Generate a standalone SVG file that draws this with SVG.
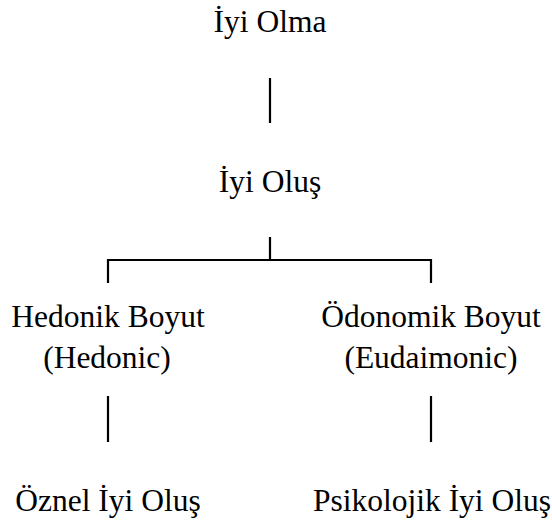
<svg xmlns="http://www.w3.org/2000/svg" width="552" height="522" viewBox="0 0 552 522">
<style>
.t { font-size: 31.5px; fill: #000; text-anchor: middle; }
.c { stroke: #000; stroke-width: 2.2; fill: none; }
</style>
<rect width="552" height="522" fill="#fff"/>
<g id="connectors">
<line class="c" x1="270" y1="78" x2="270" y2="123"/>
<line class="c" x1="270" y1="237" x2="270" y2="260"/>
<polyline class="c" points="108,283 108,260 431,260 431,283"/>
<line class="c" x1="108" y1="396" x2="108" y2="442"/>
<line class="c" x1="431" y1="396" x2="431" y2="442"/>
</g>
<g id="iyi-olma" font-family="'Liberation Serif', serif"><text class="t" x="270" y="32">İyi Olma</text></g>
<g id="iyi-olus" font-family="'Liberation Serif', serif"><text class="t" x="270" y="192">İyi Oluş</text></g>
<g id="hedonik" font-family="'Liberation Serif', serif"><text class="t" x="108" y="327">Hedonik Boyut</text><text class="t" x="107" y="368">(Hedonic)</text></g>
<g id="odonomik" font-family="'Liberation Serif', serif"><text class="t" x="431" y="327">Ödonomik Boyut</text><text class="t" x="431" y="368">(Eudaimonic)</text></g>
<g id="oznel" font-family="'Liberation Serif', serif"><text class="t" x="108" y="511">Öznel İyi Oluş</text></g>
<g id="psikolojik" font-family="'Liberation Serif', serif"><text class="t" x="432" y="511">Psikolojik İyi Oluş</text></g>
</svg>
